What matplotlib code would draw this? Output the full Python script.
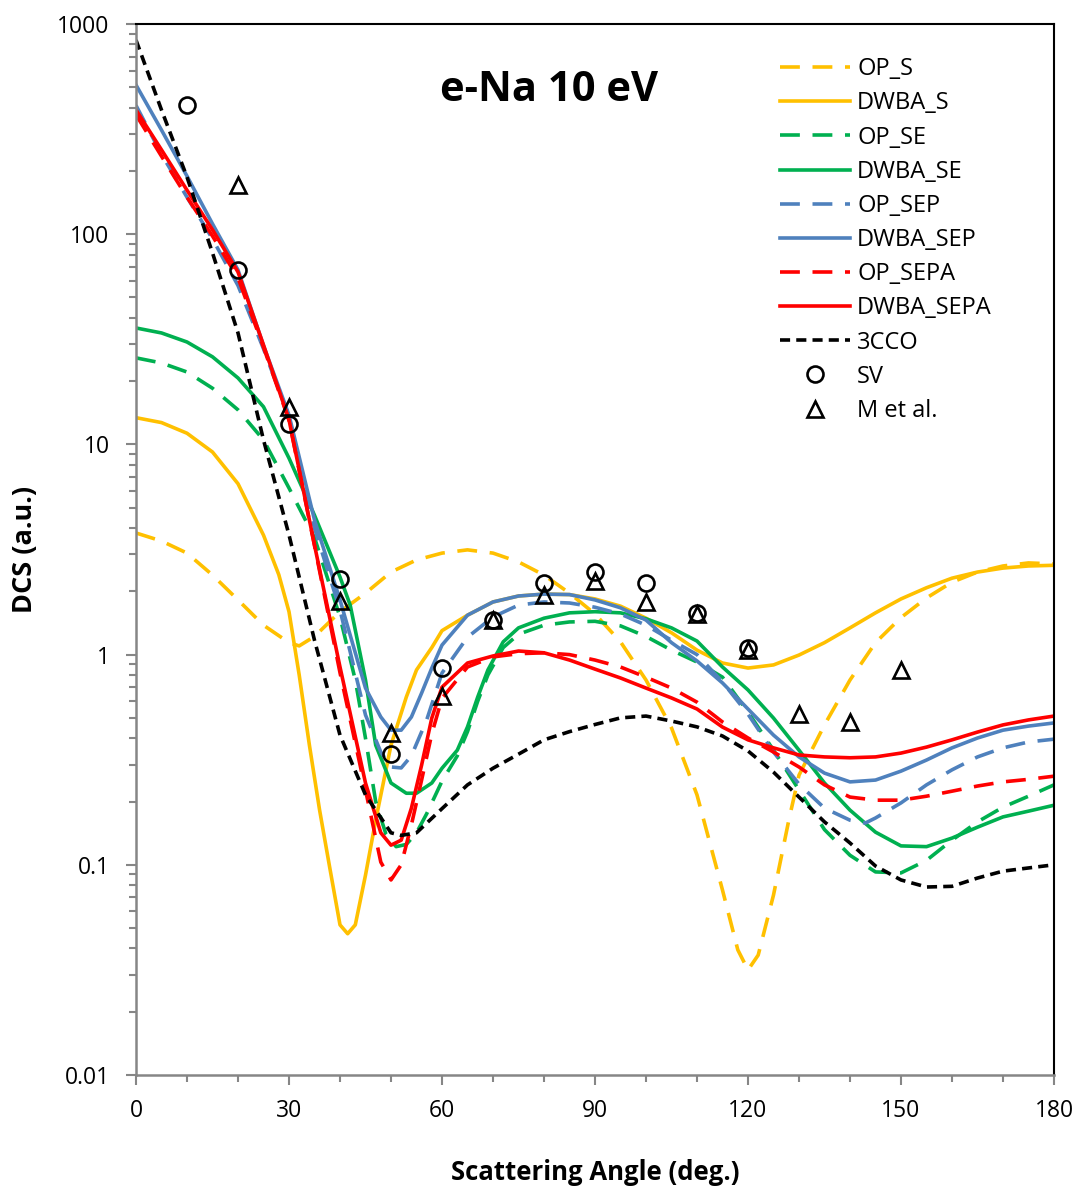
import matplotlib
matplotlib.use("Agg")
import matplotlib.pyplot as plt
import numpy as np
from matplotlib.ticker import FixedLocator, NullFormatter

# data ##################################
# OP_S (dashed orange)
ang_ops = [0, 5, 10, 15, 20, 25, 30, 32, 35, 40, 45, 50, 55, 60, 65, 70, 75, 80, 85, 90,
           95, 100, 105, 110, 115, 118, 120, 122, 125, 128, 130, 135, 140, 145, 150, 155,
           160, 165, 170, 175, 180]
dcs_ops = [3.79, 3.47, 3.04, 2.39, 1.82, 1.38, 1.14, 1.10, 1.22, 1.60, 1.96, 2.47, 2.82, 3.04,
           3.15, 3.04, 2.76, 2.39, 1.96, 1.56, 1.15, 0.757, 0.448, 0.215, 0.0758, 0.0394,
           0.0316, 0.0372, 0.0718, 0.163, 0.267, 0.463, 0.757, 1.14, 1.50, 1.86, 2.21, 2.47,
           2.64, 2.73, 2.70]
# DWBA_S (solid orange)
ang_dws = [0, 5, 10, 15, 20, 25, 28, 30, 32, 34, 36, 38, 40, 41.5, 43, 45, 47, 50, 53, 55,
           58, 60, 65, 70, 75, 80, 85, 90, 95, 100, 105, 110, 115, 120, 125, 130, 135, 140,
           145, 150, 155, 160, 165, 170, 175, 180]
dcs_dws = [13.4, 12.7, 11.3, 9.2, 6.5, 3.7, 2.4, 1.6, 0.80, 0.371, 0.182, 0.0966, 0.0518,
           0.047, 0.0518, 0.0893, 0.163, 0.371, 0.628, 0.845, 1.08, 1.30, 1.54, 1.78, 1.90,
           1.94, 1.93, 1.84, 1.70, 1.49, 1.27, 1.05, 0.912, 0.863, 0.893, 0.995, 1.14, 1.34,
           1.58, 1.84, 2.08, 2.31, 2.47, 2.58, 2.64, 2.66]
# OP_SE (dashed green)
ang_opse = [0, 5, 10, 15, 20, 25, 30, 35, 40, 43, 45, 47, 49, 51, 53, 55, 57, 60, 63, 65, 67,
            69, 72, 75, 80, 85, 90, 95, 100, 105, 110, 115, 120, 125, 130, 135, 140, 145, 150,
            155, 160, 165, 170, 175, 180]
dcs_opse = [25.8, 24.4, 22.1, 18.5, 14.6, 10.5, 6.2, 3.6, 1.51, 0.757, 0.40, 0.20, 0.14,
            0.122, 0.125, 0.142, 0.175, 0.25, 0.33, 0.43, 0.60, 0.80, 1.08, 1.25, 1.38, 1.43,
            1.44, 1.37, 1.22, 1.05, 0.922, 0.781, 0.533, 0.351, 0.227, 0.147, 0.111, 0.0925,
            0.0915, 0.105, 0.131, 0.160, 0.188, 0.212, 0.240]
# DWBA_SE (solid green)
ang_dwse = [0, 5, 10, 15, 20, 25, 30, 35, 40, 42, 45, 47, 50, 53, 55, 58, 60, 63, 65, 67, 69,
            72, 75, 80, 85, 90, 95, 100, 105, 110, 115, 120, 125, 130, 135, 140, 145, 150, 155,
            160, 165, 170, 175, 180]
dcs_dwse = [35.8, 33.9, 30.7, 26.1, 20.7, 15.1, 8.6, 4.6, 2.34, 1.72, 0.757, 0.371, 0.245,
            0.219, 0.219, 0.245, 0.288, 0.351, 0.453, 0.628, 0.845, 1.15, 1.34, 1.49, 1.58,
            1.60, 1.58, 1.48, 1.34, 1.16, 0.873, 0.679, 0.499, 0.351, 0.245, 0.182, 0.143,
            0.123, 0.122, 0.134, 0.151, 0.169, 0.180, 0.192]
# OP_SEP (dashed blue)
ang_opsep = [0, 5, 10, 15, 20, 25, 30, 35, 40, 45, 48, 50, 52, 54, 57, 60, 65, 70, 75, 80, 85,
             90, 95, 100, 105, 110, 115, 120, 125, 130, 135, 140, 143, 145, 150, 155, 160, 165,
             170, 175, 180]
dcs_opsep = [410, 240, 150, 95, 57, 28.5, 13.5, 4.0, 1.63, 0.516, 0.344, 0.292, 0.289, 0.33,
             0.489, 0.817, 1.21, 1.51, 1.72, 1.78, 1.76, 1.68, 1.56, 1.38, 1.17, 1.0, 0.741,
             0.521, 0.344, 0.242, 0.186, 0.163, 0.158, 0.167, 0.197, 0.24, 0.283, 0.326, 0.36,
             0.384, 0.396]
# DWBA_SEP (solid blue)
ang_dwsep = [0, 5, 10, 15, 20, 25, 30, 35, 40, 45, 48, 50, 52, 54, 56, 58, 60, 65, 70, 75, 80,
             85, 90, 95, 100, 105, 110, 115, 120, 125, 130, 135, 140, 145, 150, 155, 160, 165,
             170, 175, 180]
dcs_dwsep = [513, 313, 189, 112, 67.6, 29.5, 13.8, 4.37, 1.82, 0.693, 0.505, 0.437, 0.437,
             0.505, 0.656, 0.863, 1.11, 1.54, 1.78, 1.90, 1.94, 1.93, 1.82, 1.67, 1.46, 1.14,
             0.933, 0.733, 0.551, 0.414, 0.326, 0.273, 0.248, 0.253, 0.279, 0.315, 0.36, 0.401,
             0.437, 0.457, 0.473]
# OP_SEPA (dashed red)
ang_opsepa = [0, 5, 10, 15, 20, 25, 30, 35, 40, 45, 48, 50, 52, 54, 56, 58, 60, 65, 70, 75, 80,
              85, 90, 95, 100, 105, 110, 115, 120, 125, 130, 135, 140, 145, 150, 155, 160, 165,
              170, 175, 180]
dcs_opsepa = [370, 235, 150, 98, 62, 29, 13.0, 3.3, 0.82, 0.227, 0.103, 0.0847, 0.10, 0.155,
              0.253, 0.42, 0.62, 0.873, 0.975, 1.01, 1.02, 1.0, 0.942, 0.873, 0.781, 0.693,
              0.594, 0.478, 0.401, 0.344, 0.292, 0.24, 0.21, 0.203, 0.203, 0.212, 0.224, 0.237,
              0.248, 0.255, 0.264]
# DWBA_SEPA (solid red)
ang_dwsepa = [0, 5, 10, 15, 20, 25, 30, 35, 40, 45, 48, 50, 52, 54, 56, 58, 60, 65, 70, 75, 80,
              85, 90, 95, 100, 105, 110, 115, 120, 125, 130, 135, 140, 145, 150, 155, 160, 165,
              170, 175, 180]
dcs_dwsepa = [390, 252, 162, 105, 66.1, 29.7, 13.1, 3.32, 0.873, 0.245, 0.142, 0.124, 0.131,
              0.186, 0.298, 0.499, 0.70, 0.912, 0.985, 1.04, 1.02, 0.942, 0.853, 0.774, 0.693,
              0.622, 0.551, 0.452, 0.393, 0.36, 0.333, 0.326, 0.323, 0.326, 0.34, 0.363, 0.393,
              0.428, 0.463, 0.489, 0.51]
# 3CCO (short dashed black)
ang_3cco = [0, 5, 10, 15, 20, 25, 30, 35, 40, 45, 50, 52, 55, 60, 65, 70, 75, 80, 85, 90, 95,
            100, 105, 110, 115, 120, 125, 130, 135, 140, 145, 150, 155, 160, 165, 170, 175, 180]
dcs_3cco = [839, 390, 187, 81.5, 33.9, 10.5, 3.71, 1.17, 0.414, 0.215, 0.142, 0.138, 0.142,
            0.185, 0.24, 0.288, 0.336, 0.393, 0.43, 0.465, 0.500, 0.51, 0.483, 0.453, 0.41,
            0.348, 0.276, 0.21, 0.16, 0.127, 0.0987, 0.0847, 0.0784, 0.079, 0.0865, 0.0933,
            0.0966, 0.1]
# experiments
ang_sv = [10, 20, 30, 40, 50, 60, 70, 80, 90, 100, 110, 120]
dcs_sv = [412, 67.6, 12.5, 2.29, 0.336, 0.863, 1.46, 2.19, 2.47, 2.19, 1.58, 1.07]
ang_m = [20, 30, 40, 50, 60, 70, 80, 90, 100, 110, 120, 130, 140, 150]
dcs_m = [171, 15.1, 1.80, 0.424, 0.635, 1.46, 1.92, 2.24, 1.78, 1.56, 1.05, 0.521, 0.478, 0.845]
##########################

plt.rcParams.update({
    "font.family": ["Open Sans", "DejaVu Sans"],
    "font.size": 16,
})

c_or = '#FFC000'
c_gr = '#00B050'
c_bl = '#4F81BD'
c_rd = '#FF0000'
lw = 2.6
long_dash = (0, (5.5, 3.5))
short_dash = (0, (2.8, 1.7))

fig = plt.figure(figsize=(10.77, 11.87), dpi=100)
ax = fig.add_axes([136/1077, 1-1075/1187, (1054-136)/1077, (1075-24)/1187])

ax.plot(ang_ops, dcs_ops, color=c_or, lw=lw, ls=long_dash, label='OP_S')
ax.plot(ang_dws, dcs_dws, color=c_or, lw=lw, label='DWBA_S')
ax.plot(ang_opse, dcs_opse, color=c_gr, lw=lw, ls=long_dash, label='OP_SE')
ax.plot(ang_dwse, dcs_dwse, color=c_gr, lw=lw, label='DWBA_SE')
ax.plot(ang_opsep, dcs_opsep, color=c_bl, lw=lw, ls=long_dash, label='OP_SEP')
ax.plot(ang_dwsep, dcs_dwsep, color=c_bl, lw=lw, label='DWBA_SEP')
ax.plot(ang_opsepa, dcs_opsepa, color=c_rd, lw=lw, ls=long_dash, label='OP_SEPA')
ax.plot(ang_dwsepa, dcs_dwsepa, color=c_rd, lw=lw, label='DWBA_SEPA')
ax.plot(ang_3cco, dcs_3cco, color='k', lw=lw, ls=short_dash, label='3CCO')
ax.plot(ang_sv, dcs_sv, ls='none', marker='o', ms=11.5, mfc='none', mec='k', mew=1.9,
        label='SV')
ax.plot(ang_m, dcs_m, ls='none', marker='^', ms=11.5, mfc='none', mec='k', mew=1.9,
        label='M et al.')

# axes
ax.set_yscale('log')
ax.set_xlim(0, 180)
ax.set_ylim(0.01, 1000)
ax.xaxis.set_major_locator(FixedLocator(range(0, 181, 30)))
ax.xaxis.set_minor_locator(FixedLocator(range(0, 181, 10)))
ax.set_yticks([0.01, 0.1, 1, 10, 100, 1000])
ax.set_yticklabels(['0.01', '0.1', '1', '10', '100', '1000'])
ax.yaxis.set_minor_formatter(NullFormatter())
ax.tick_params(which='both', direction='out', color='#868686', width=1.5)
ax.tick_params(which='major', length=7, labelsize=16.5)
ax.tick_params(which='minor', length=5)
ax.tick_params(axis='x', pad=10)
ax.tick_params(axis='y', pad=12)
for s in ['left', 'bottom']:
    ax.spines[s].set_color('#868686')
    ax.spines[s].set_linewidth(1.8)
for s in ['top', 'right']:
    ax.spines[s].set_color('k')
    ax.spines[s].set_linewidth(1.5)

ax.set_xlabel('Scattering Angle (deg.)', fontsize=18.5, fontweight='bold', labelpad=26)
ax.set_ylabel('DCS (a.u.)', fontsize=19.5, fontweight='bold', labelpad=14)

ax.text(0.45, 0.937, 'e-Na 10 eV', transform=ax.transAxes, ha='center', va='center',
        fontsize=30, fontweight='bold')

leg = ax.legend(loc='upper left', bbox_to_anchor=(0.684, 0.984), frameon=False, fontsize=17,
                handlelength=2.95, handletextpad=0.3, labelspacing=0.43,
                borderaxespad=0.3)

fig.savefig('out.png', dpi=100)
